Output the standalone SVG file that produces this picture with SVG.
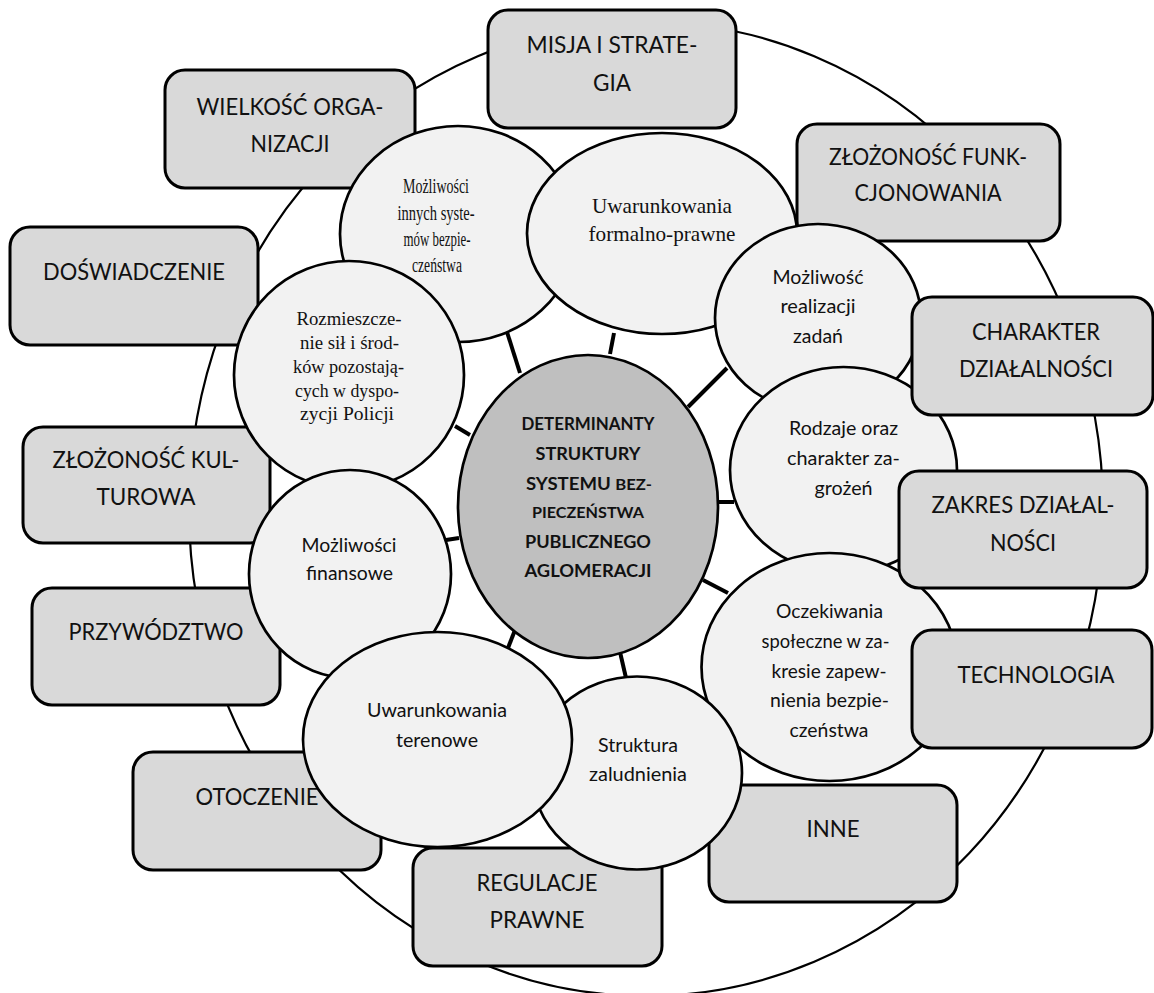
<svg xmlns="http://www.w3.org/2000/svg" width="1154" height="993" viewBox="0 0 1154 993">
<style>
.bg{fill:#fff}
.ring{fill:none;stroke:#000;stroke-width:2.2}
.box{fill:#d9d9d9;stroke:#000;stroke-width:3}
.sat{fill:#f2f2f2;stroke:#000;stroke-width:2.7}
.core{fill:#bfbfbf;stroke:#000;stroke-width:2.7}
.bt{font-family:Lato,"Liberation Sans",sans-serif;font-size:23px;fill:#111;text-anchor:middle}
.st{font-family:Lato,"Liberation Sans",sans-serif;font-size:18.5px;fill:#111;text-anchor:middle}
.sf{font-family:"Liberation Serif","Times New Roman",serif;fill:#111;text-anchor:middle}
.ct{font-family:Lato,"Liberation Sans",sans-serif;font-weight:bold;font-size:16.5px;fill:#111;text-anchor:middle}
.sc{font-size:14.8px}
.con line{stroke:#000;stroke-width:4}
</style>
<rect class="bg" x="0" y="0" width="1154" height="993"/>
<ellipse id="outer-ring" class="ring" cx="646" cy="509" rx="457" ry="487"/>

<g id="n-misja"><rect class="box" x="488" y="10" width="248" height="118" rx="20"/>
<text class="bt" x="612" y="53" textLength="171" lengthAdjust="spacingAndGlyphs">MISJA I STRATE-</text>
<text class="bt" x="612" y="91" textLength="38" lengthAdjust="spacingAndGlyphs">GIA</text></g>

<g id="n-wielkosc"><rect class="box" x="165" y="70" width="250" height="118" rx="20"/>
<text class="bt" x="290" y="115" textLength="187" lengthAdjust="spacingAndGlyphs">WIELKOŚĆ ORGA-</text>
<text class="bt" x="290" y="152" textLength="79" lengthAdjust="spacingAndGlyphs">NIZACJI</text></g>

<g id="n-doswiadczenie"><rect class="box" x="10" y="227" width="248" height="118" rx="20"/>
<text class="bt" x="134" y="280" textLength="182" lengthAdjust="spacingAndGlyphs">DOŚWIADCZENIE</text></g>

<g id="n-zlozonosc-kult"><rect class="box" x="23" y="427" width="247" height="116" rx="20"/>
<text class="bt" x="146" y="468" textLength="187" lengthAdjust="spacingAndGlyphs">ZŁOŻONOŚĆ KUL-</text>
<text class="bt" x="146" y="505" textLength="99" lengthAdjust="spacingAndGlyphs">TUROWA</text></g>

<g id="n-przywodztwo"><rect class="box" x="32" y="588" width="248" height="117" rx="20"/>
<text class="bt" x="156" y="640" textLength="175" lengthAdjust="spacingAndGlyphs">PRZYWÓDZTWO</text></g>

<g id="n-otoczenie"><rect class="box" x="133" y="752" width="248" height="118" rx="20"/>
<text class="bt" x="257" y="805" textLength="123" lengthAdjust="spacingAndGlyphs">OTOCZENIE</text></g>

<g id="n-regulacje"><rect class="box" x="413" y="848" width="249" height="118" rx="20"/>
<text class="bt" x="537" y="891" textLength="121" lengthAdjust="spacingAndGlyphs">REGULACJE</text>
<text class="bt" x="537" y="928" textLength="95" lengthAdjust="spacingAndGlyphs">PRAWNE</text></g>

<g id="n-inne"><rect class="box" x="709" y="785" width="248" height="117" rx="20"/>
<text class="bt" x="833" y="837" textLength="53" lengthAdjust="spacingAndGlyphs">INNE</text></g>

<g id="n-zlozonosc-funk"><rect class="box" x="797" y="124" width="263" height="117" rx="20"/>
<text class="bt" x="928" y="165" textLength="198" lengthAdjust="spacingAndGlyphs">ZŁOŻONOŚĆ FUNK-</text>
<text class="bt" x="928" y="201" textLength="147" lengthAdjust="spacingAndGlyphs">CJONOWANIA</text></g>

<g id="connectors" class="con">
<line x1="507" y1="332" x2="520" y2="373"/>
<line x1="614" y1="333" x2="610" y2="354"/>
<line x1="727" y1="368" x2="688" y2="407"/>
<line x1="717" y1="502" x2="734" y2="502"/>
<line x1="703" y1="580" x2="728" y2="593"/>
<line x1="620" y1="652" x2="626" y2="678"/>
<line x1="515" y1="630" x2="508" y2="648"/>
<line x1="455" y1="426" x2="470" y2="435"/>
<line x1="446" y1="540" x2="459" y2="538"/>
</g>

<g id="n-mozliwosci-innych"><ellipse class="sat" cx="458" cy="234" rx="118" ry="108"/>
<text class="sf" font-size="20.5" x="436" y="193" textLength="66" lengthAdjust="spacingAndGlyphs">Możliwości</text>
<text class="sf" font-size="20.5" x="436" y="220" textLength="77" lengthAdjust="spacingAndGlyphs">innych syste-</text>
<text class="sf" font-size="20.5" x="437" y="246" textLength="67" lengthAdjust="spacingAndGlyphs">mów bezpie-</text>
<text class="sf" font-size="20.5" x="437" y="272" textLength="50" lengthAdjust="spacingAndGlyphs">czeństwa</text></g>

<g id="n-uwarunkowania-formalne"><ellipse class="sat" cx="662" cy="233.5" rx="135" ry="100.5"/>
<text class="sf" font-size="21" x="662" y="213" textLength="140" lengthAdjust="spacingAndGlyphs">Uwarunkowania</text>
<text class="sf" font-size="21" x="662" y="241" textLength="147" lengthAdjust="spacingAndGlyphs">formalno-prawne</text></g>

<g id="n-realizacja"><ellipse class="sat" cx="818" cy="318" rx="103" ry="94"/>
<text class="st" x="818" y="284" textLength="91" lengthAdjust="spacingAndGlyphs">Możliwość</text>
<text class="st" x="818" y="313" textLength="75" lengthAdjust="spacingAndGlyphs">realizacji</text>
<text class="st" x="818" y="343" textLength="50" lengthAdjust="spacingAndGlyphs">zadań</text></g>

<g id="n-rodzaje"><ellipse class="sat" cx="843.5" cy="470" rx="113.5" ry="103"/>
<text class="st" x="843.5" y="435" textLength="109" lengthAdjust="spacingAndGlyphs">Rodzaje oraz</text>
<text class="st" x="843.5" y="465" textLength="113" lengthAdjust="spacingAndGlyphs">charakter za-</text>
<text class="st" x="843.5" y="495" textLength="58" lengthAdjust="spacingAndGlyphs">grożeń</text></g>

<g id="n-oczekiwania"><ellipse class="sat" cx="829.5" cy="667" rx="128" ry="114"/>
<text class="st" x="829.5" y="618" textLength="107" lengthAdjust="spacingAndGlyphs">Oczekiwania</text>
<text class="st" x="825.5" y="648" textLength="128" lengthAdjust="spacingAndGlyphs">społeczne w za-</text>
<text class="st" x="829" y="678" textLength="115" lengthAdjust="spacingAndGlyphs">kresie zapew-</text>
<text class="st" x="829.5" y="707" textLength="119" lengthAdjust="spacingAndGlyphs">nienia bezpie-</text>
<text class="st" x="829" y="737" textLength="79" lengthAdjust="spacingAndGlyphs">czeństwa</text></g>

<g id="n-rozmieszczenie"><ellipse class="sat" cx="349" cy="375" rx="115" ry="114"/>
<text class="sf" font-size="18.5" x="349" y="325" textLength="105" lengthAdjust="spacingAndGlyphs">Rozmieszcze-</text>
<text class="sf" font-size="18.5" x="349.5" y="348.5" textLength="99" lengthAdjust="spacingAndGlyphs">nie sił i środ-</text>
<text class="sf" font-size="18.5" x="348.5" y="372.5" textLength="111" lengthAdjust="spacingAndGlyphs">ków pozostają-</text>
<text class="sf" font-size="18.5" x="347" y="396.5" textLength="104" lengthAdjust="spacingAndGlyphs">cych w dyspo-</text>
<text class="sf" font-size="18.5" x="347" y="420" textLength="94" lengthAdjust="spacingAndGlyphs">zycji Policji</text></g>

<g id="n-finansowe"><ellipse class="sat" cx="350" cy="574" rx="101" ry="104"/>
<text class="st" x="349" y="552" textLength="95" lengthAdjust="spacingAndGlyphs">Możliwości</text>
<text class="st" x="349.5" y="580" textLength="87" lengthAdjust="spacingAndGlyphs">finansowe</text></g>

<g id="n-struktura"><ellipse class="sat" cx="637" cy="773" rx="105" ry="96.5"/>
<text class="st" x="638" y="752" textLength="80" lengthAdjust="spacingAndGlyphs">Struktura</text>
<text class="st" x="638" y="781" textLength="98" lengthAdjust="spacingAndGlyphs">zaludnienia</text></g>

<g id="n-terenowe"><ellipse class="sat" cx="437.5" cy="739.5" rx="134.5" ry="107.5"/>
<text class="st" x="437" y="717" textLength="140" lengthAdjust="spacingAndGlyphs">Uwarunkowania</text>
<text class="st" x="437" y="747" textLength="82" lengthAdjust="spacingAndGlyphs">terenowe</text></g>

<g id="n-center"><ellipse class="core" cx="588" cy="506.5" rx="130" ry="151.5"/>
<text class="ct" x="588" y="430" textLength="133" lengthAdjust="spacingAndGlyphs">DETERMINANTY</text>
<text class="ct" x="588" y="460" textLength="105" lengthAdjust="spacingAndGlyphs">STRUKTURY</text>
<text class="ct" x="589" y="490" textLength="126" lengthAdjust="spacingAndGlyphs">SYSTEMU <tspan class="sc">BEZ-</tspan></text>
<text class="ct sc" x="588" y="518" textLength="112" lengthAdjust="spacingAndGlyphs">PIECZEŃSTWA</text>
<text class="ct" x="588" y="548" textLength="126" lengthAdjust="spacingAndGlyphs">PUBLICZNEGO</text>
<text class="ct" x="588" y="577" textLength="127" lengthAdjust="spacingAndGlyphs">AGLOMERACJI</text></g>

<g id="n-charakter"><rect class="box" x="912" y="297" width="241" height="118" rx="20"/>
<text class="bt" x="1036" y="340" textLength="128" lengthAdjust="spacingAndGlyphs">CHARAKTER</text>
<text class="bt" x="1036" y="377" textLength="154" lengthAdjust="spacingAndGlyphs">DZIAŁALNOŚCI</text></g>

<g id="n-zakres"><rect class="box" x="899" y="471" width="248" height="117" rx="20"/>
<text class="bt" x="1023" y="513" textLength="183" lengthAdjust="spacingAndGlyphs">ZAKRES DZIAŁAL-</text>
<text class="bt" x="1023" y="551" textLength="66" lengthAdjust="spacingAndGlyphs">NOŚCI</text></g>

<g id="n-technologia"><rect class="box" x="912" y="630" width="240" height="118" rx="20"/>
<text class="bt" x="1036" y="683" textLength="157" lengthAdjust="spacingAndGlyphs">TECHNOLOGIA</text></g>
</svg>
